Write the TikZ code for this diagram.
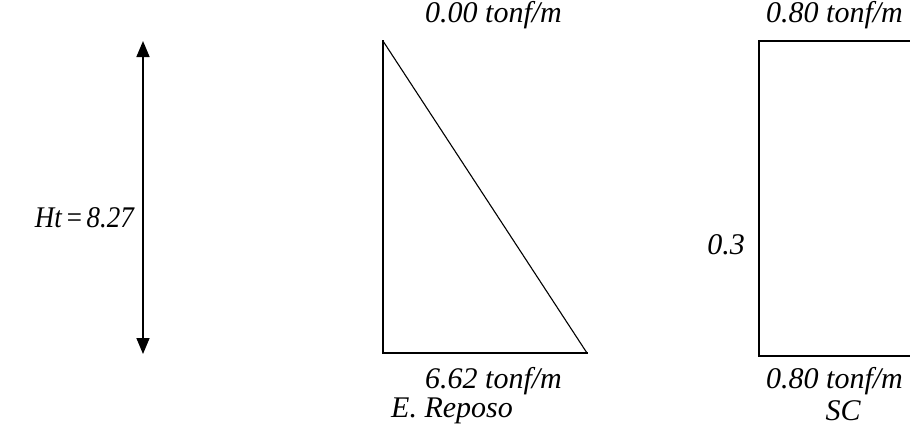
\documentclass[tikz,border=0pt]{standalone}
\usepackage{fontspec}
\setmainfont{Liberation Serif}
\usetikzlibrary{arrows.meta}
\begin{document}
\begin{tikzpicture}[x=1pt,y=-1pt,
  lbl/.style={font=\fontsize{30}{32}\selectfont\itshape, inner sep=0pt},
  ln/.style={line width=1.6pt, line cap=rect},
  dim/.style={line width=1.6pt, {Triangle[width=13pt,length=16pt]}-{Triangle[width=13pt,length=16pt]}}]
\useasboundingbox (0,0) rectangle (910,432);
% dimension arrow
\coordinate (at) at (143,41);
\coordinate (ab) at (143,354);
\draw[dim] (at) -- (ab);
\node[lbl, anchor=east] (ht) at (134,218) {\scalebox{0.9}[1]{Ht\hspace{0.12em}=\hspace{0.12em}8.27}};
% triangle
\coordinate (t1) at (383,41);
\coordinate (t2) at (383,353);
\coordinate (t3) at (587,353);
\draw[ln] (t1) -- (t2) -- (t3);
\draw[line width=1.1pt] (t1) -- (t3);
\node[lbl, anchor=west] (l0) at (425,15) {0.00 tonf/m};
\node[lbl, anchor=west] (l1) at (425,381) {6.62 tonf/m};
\node[lbl, anchor=west] (l2) at (391,411) {E. Reposo};
% rectangle
\coordinate (r1) at (925,41);
\coordinate (r2) at (759,41);
\coordinate (r3) at (759,356);
\coordinate (r4) at (925,356);
\draw[ln] (r1) -- (r2) -- (r3) -- (r4);
\node[lbl, anchor=west] (s0) at (766,15) {0.80 tonf/m};
\node[lbl, anchor=east] (s1) at (745,245) {0.3};
\node[lbl, anchor=west] (s2) at (766,381) {0.80 tonf/m};
\node[lbl] (s3) at (843,411) {SC};
\end{tikzpicture}
\end{document}
